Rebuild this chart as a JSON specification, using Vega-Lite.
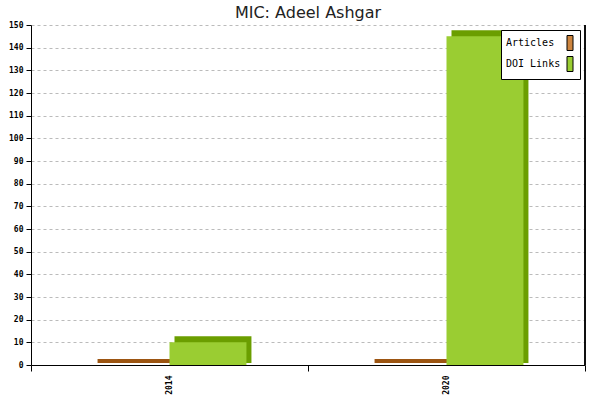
{
  "$schema": "https://vega.github.io/schema/vega-lite/v6.json",
  "autosize": "none",
  "padding": {"left": 31, "top": 25, "right": 15, "bottom": 35},
  "width": 554,
  "height": 340,
  "background": "white",
  "title": {"text": "MIC: Adeel Ashgar", "font": "DejaVu Sans", "fontSize": 16, "fontWeight": "normal", "color": "#222222", "offset": 2, "baseline": "bottom", "dy": 18},
  "data": {
    "values": [
      {"year": "2014", "series": "Articles", "value": 0},
      {"year": "2014", "series": "DOI Links", "value": 10},
      {"year": "2020", "series": "Articles", "value": 0},
      {"year": "2020", "series": "DOI Links", "value": 145}
    ]
  },
  "encoding": {
    "x": {
      "field": "year", "type": "nominal", "title": null,
      "scale": {"paddingInner": 0, "paddingOuter": 0},
      "axis": {"labelAngle": -90, "tickBand": "extent", "labelFont": "DejaVu Sans Mono", "labelFontSize": 8, "labelFontWeight": "bold", "labelColor": "#000", "domainColor": "#000", "tickColor": "#000", "tickSize": 6, "labelPadding": 4, "grid": false}
    },
    "y": {
      "field": "value", "type": "quantitative", "title": null,
      "scale": {"domain": [0, 150]},
      "axis": {"values": [0,10,20,30,40,50,60,70,80,90,100,110,120,130,140,150], "labelFont": "DejaVu Sans Mono", "labelFontSize": 8, "labelFontWeight": "bold", "labelColor": "#000", "domainColor": "#000", "tickColor": "#000", "tickSize": 5, "gridDash": [3, 3], "gridColor": "#bbbbbb", "labelPadding": 3}
    }
  },
  "layer": [
    {
      "mark": {"type": "bar", "yOffset": -6, "y2Offset": -2},
      "encoding": {
        "y2": {"datum": 0},
        "xOffset": {"field": "series", "type": "nominal", "scale": {"paddingOuter": 0.8, "paddingInner": 0, "range": [5, 282]}},
        "color": {"field": "series", "type": "nominal", "legend": null, "scale": {"domain": ["Articles", "DOI Links"], "range": ["#9c5512", "#6b9e00"]}}
      }
    },
    {
      "mark": {"type": "bar"},
      "encoding": {
        "xOffset": {"field": "series", "type": "nominal", "scale": {"paddingOuter": 0.8, "paddingInner": 0}},
        "color": {
          "field": "series", "type": "nominal", "title": null,
          "scale": {"domain": ["Articles", "DOI Links"], "range": ["#cd853f", "#9acd32"]},
          "legend": {"orient": "top-right", "offset": 5, "fillColor": "white", "strokeColor": "black", "padding": 5,
            "symbolType": "M-0.4,-1H0.4V1H-0.4Z", "symbolSize": 225, "symbolStrokeColor": "black", "symbolStrokeWidth": 1, "symbolOffset": 56,
            "labelExpr": "datum.label == 'Articles' ? '\u00a0Articles' : datum.label",
            "labelFont": "DejaVu Sans Mono", "labelFontSize": 10, "labelColor": "#000", "labelAlign": "left", "labelOffset": -72, "rowPadding": 1}
        }
      }
    },
    {
      "mark": {"type": "rule", "color": "black"},
      "encoding": {"x": {"datum": "2020", "bandPosition": 1}, "y": {"datum": 0}, "y2": {"datum": 150}}
    }
  ],
  "resolve": {"scale": {"color": "independent", "xOffset": "independent"}},
  "config": {"view": {"stroke": null}}
}
